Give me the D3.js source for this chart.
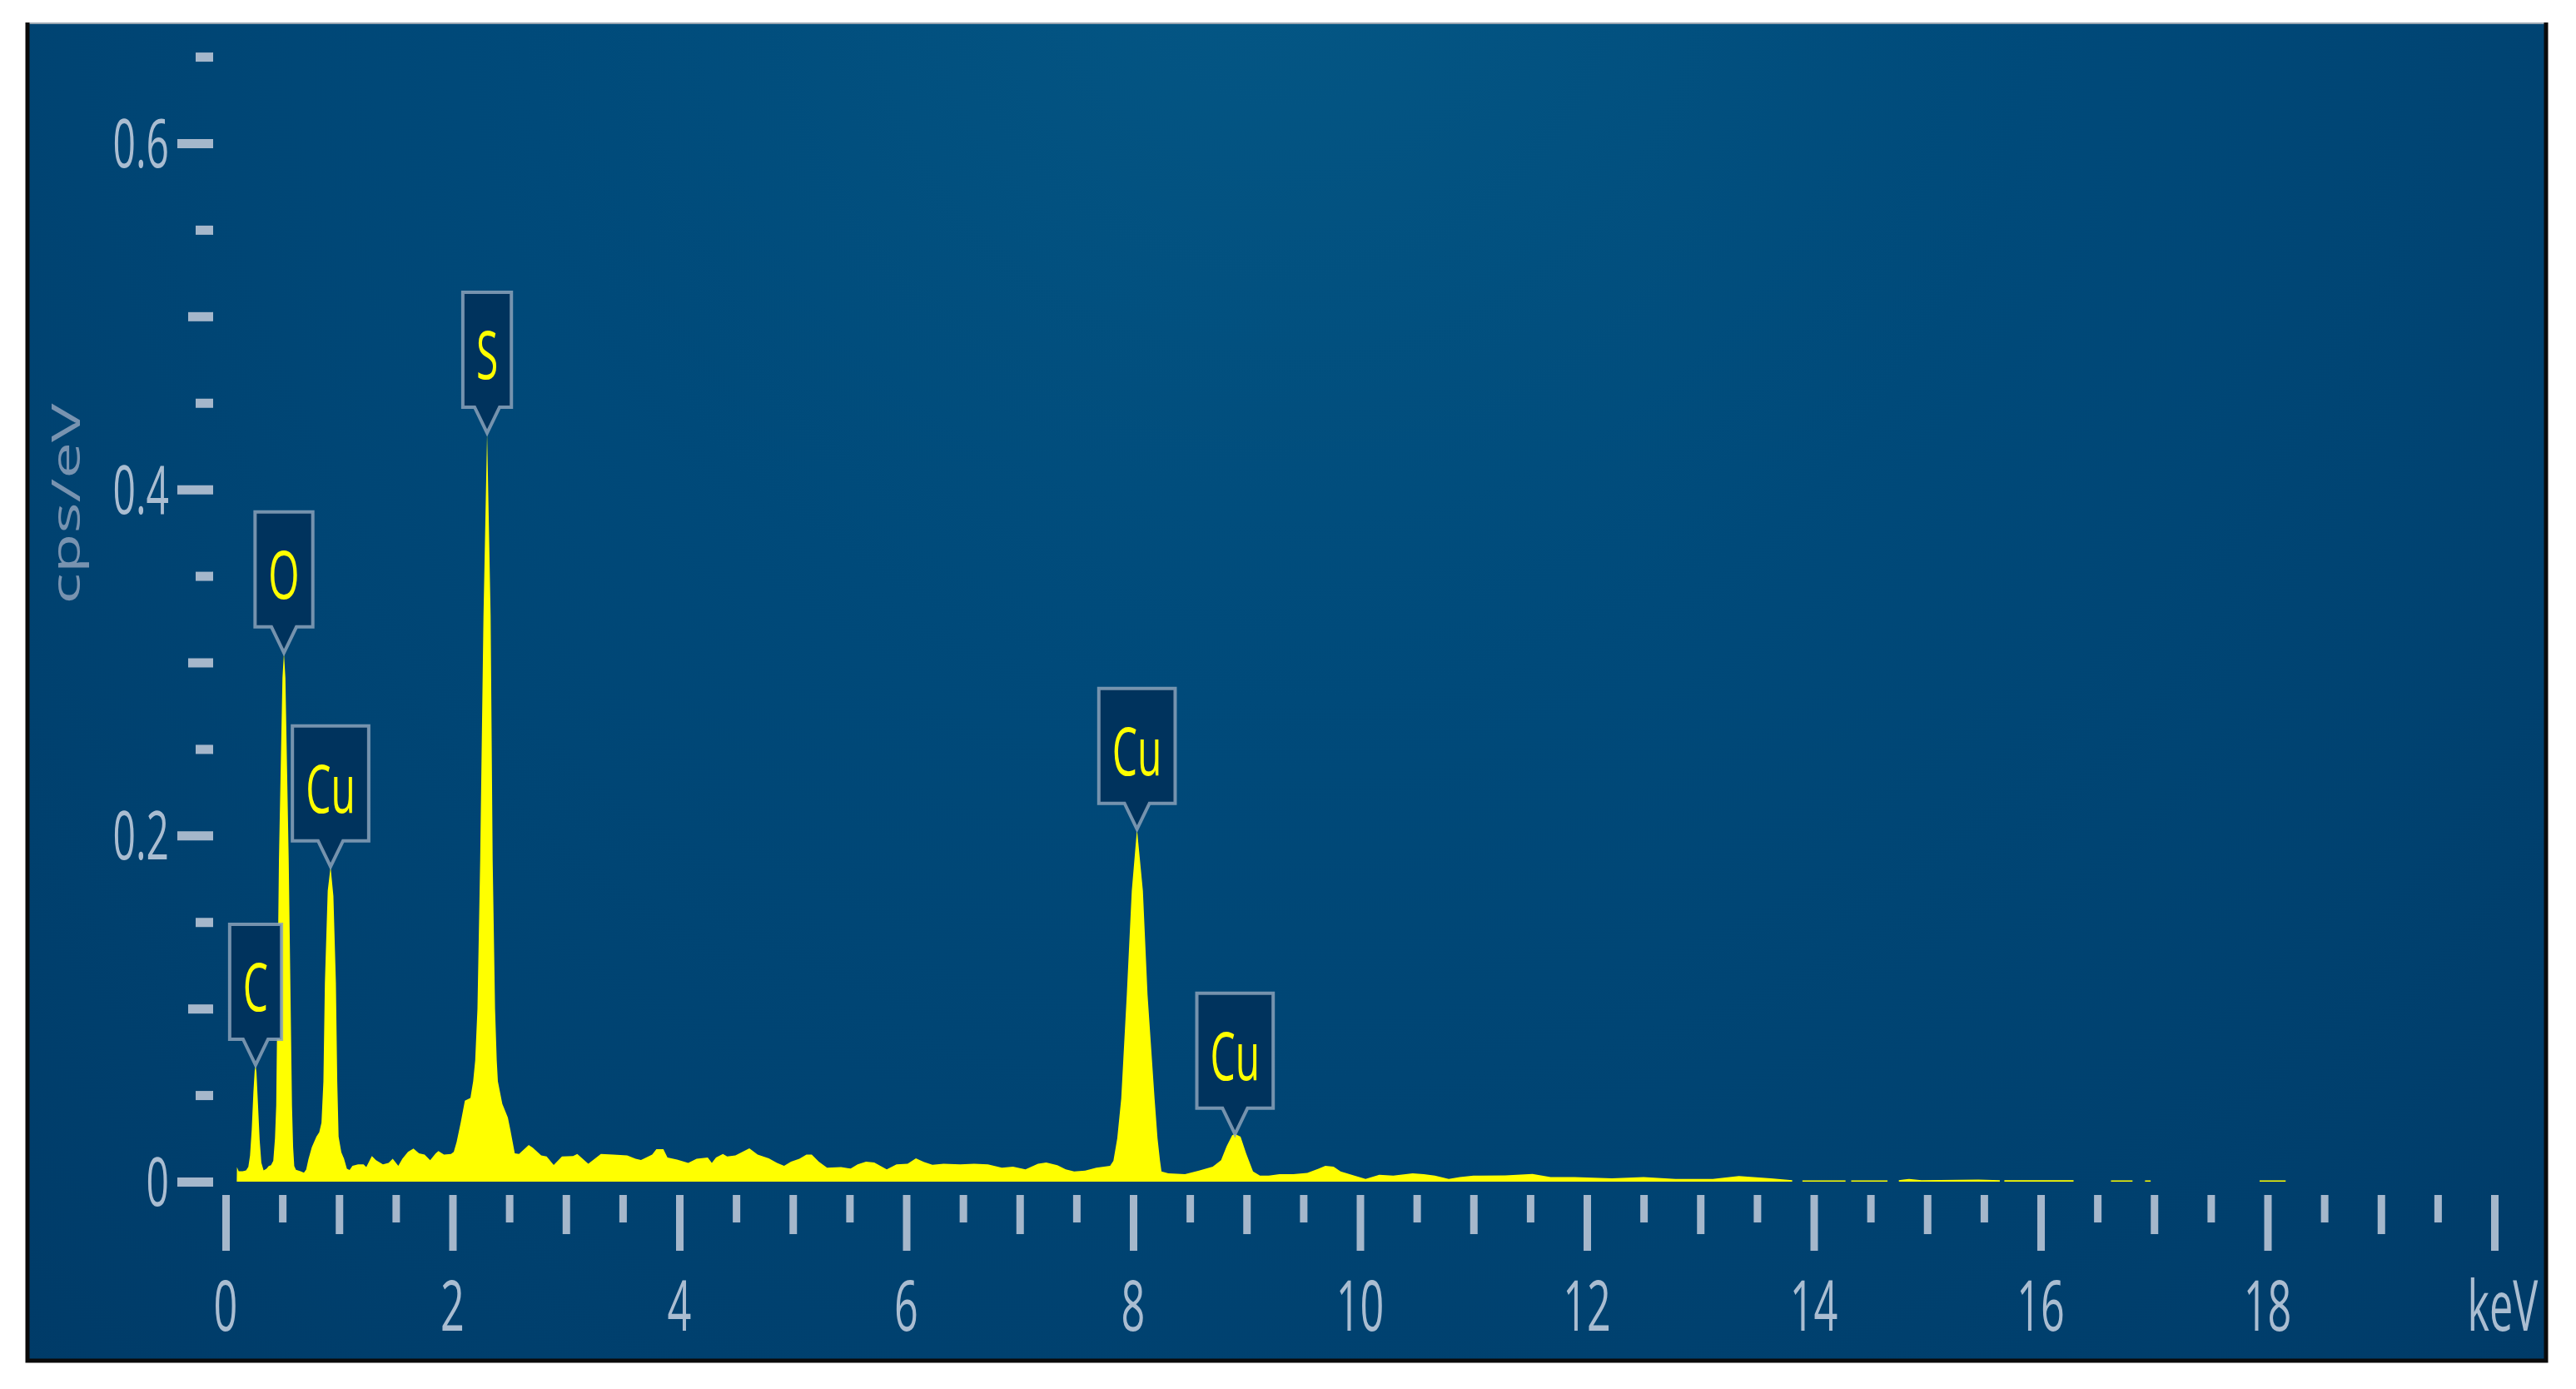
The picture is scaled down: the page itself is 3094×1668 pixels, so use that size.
<!DOCTYPE html>
<html><head><meta charset="utf-8">
<script src="https://cdn.jsdelivr.net/npm/d3@7"></script>
<style>body{margin:0;background:#fff}svg{display:block}</style>
</head><body>
<svg id="chart" width="3094" height="1668"></svg>
<script>
// ---- data (keV, cps/eV) ----
const spectrum = [
[0.098,0],[0.10,0.0084],[0.115,0.006],[0.15,0.006],[0.18,0.0065],[0.20,0.0085],[0.215,0.015],[0.23,0.030],[0.245,0.052],[0.256,0.064],[0.264,0.0674],[0.272,0.063],[0.285,0.045],[0.30,0.024],[0.315,0.011],[0.335,0.0065],[0.36,0.0075],[0.38,0.009],[0.40,0.0095],[0.42,0.012],[0.435,0.025],[0.446,0.044],[0.47,0.186],[0.501,0.291],[0.514,0.3056],[0.527,0.291],[0.556,0.186],[0.585,0.044],[0.595,0.020],[0.605,0.009],[0.62,0.0068],[0.66,0.006],[0.69,0.0052],[0.71,0.007],[0.73,0.013],[0.76,0.020],[0.80,0.026],[0.825,0.0285],[0.845,0.034],[0.862,0.058],[0.875,0.115],[0.90,0.168],[0.925,0.182],[0.95,0.165],[0.972,0.115],[0.984,0.058],[0.996,0.026],[1.02,0.017],[1.044,0.0132],[1.069,0.0075],[1.093,0.0067],
[1.118,0.0092],[1.167,0.0100],[1.216,0.0100],[1.24,0.0084],[1.289,0.0148],[1.326,0.0124],[1.387,0.0100],[1.436,0.0108],[1.473,0.0132],[1.522,0.0092],[1.558,0.0132],[1.607,0.0172],[1.656,0.0191],[1.705,0.0164],[1.754,0.0156],[1.803,0.0124],[1.852,0.0164],[1.876,0.0177],[1.925,0.0156],[1.987,0.0160],[2.011,0.0172],
[2.036,0.0228],[2.072,0.034],[2.109,0.0468],[2.158,0.0484],[2.182,0.058],[2.20,0.07],[2.22,0.10],[2.244,0.186],[2.273,0.327],[2.305,0.4326],[2.336,0.327],[2.354,0.186],[2.375,0.10],[2.39,0.07],[2.40,0.058],[2.439,0.045],[2.488,0.037],[2.51,0.030],[2.549,0.0164],[2.586,0.016],[2.672,0.0212],[2.708,0.0196],[2.782,0.0151],[2.83,0.0145],[2.892,0.0096],[2.965,0.0145],[3.063,0.0148],[3.10,0.016],[3.197,0.0103],[3.308,0.016],[3.418,0.0156],[3.54,0.0151],[3.614,0.0132],[3.662,0.0125],
[3.76,0.0156],[3.797,0.0188],[3.859,0.0188],[3.895,0.0140],[3.98,0.0128],[4.078,0.0108],[4.152,0.0132],[4.25,0.014],[4.286,0.0108],[4.323,0.014],[4.384,0.016],[4.421,0.0145],[4.494,0.0151],[4.555,0.0172],[4.617,0.0193],[4.69,0.0156],[4.788,0.0135],[4.861,0.0108],[4.923,0.0092],[4.984,0.0116],[5.058,0.0132],[5.12,0.0156],[5.167,0.0156],[5.229,0.0116],[5.302,0.0080],[5.425,0.0084],[5.51,0.0076],[5.571,0.0100],[5.645,0.0116],[5.718,0.0111],[5.828,0.0071],[5.914,0.0100],[6.012,0.0103],[6.085,0.0135],[6.158,0.0113],[6.231,0.0097],[6.329,0.0103],[6.476,0.0100],[6.598,0.0103],[6.72,0.0100],[6.843,0.0080],[6.941,0.0087],[7.051,0.0071],[7.161,0.0103],[7.234,0.0111],[7.332,0.0095],
[7.406,0.0071],[7.48,0.0059],[7.577,0.0064],[7.675,0.0080],[7.797,0.0092],[7.826,0.012],[7.86,0.025],[7.895,0.048],[7.944,0.108],[7.988,0.168],[8.034,0.2037],[8.086,0.168],[8.127,0.108],[8.189,0.048],[8.215,0.025],[8.237,0.012],[8.25,0.0059],[8.31,0.0048],[8.457,0.0043],[8.58,0.0064],[8.702,0.0087],[8.775,0.0124],[8.824,0.0204],[8.873,0.0268],[8.898,0.0275],[8.947,0.026],[8.996,0.0164],[9.057,0.0059],[9.118,0.0035],[9.192,0.0035],[9.29,0.0043],[9.412,0.0043],[9.535,0.0051],[9.633,0.0075],[9.694,0.0092],[9.767,0.0087],[9.829,0.0059],[9.951,0.0035],[10.049,0.0016],[10.17,0.004],[10.293,0.0035],[10.464,0.0048],[10.562,0.0043],[10.66,0.0035],[10.782,0.0016],[10.88,0.0027],[11.0,0.0035],
[11.28,0.0036],[11.52,0.0044],[11.68,0.0027],[11.89,0.0027],[12.22,0.0019],[12.5,0.0027],[12.78,0.0016],[13.11,0.0016],[13.34,0.0032],[13.62,0.0019],[13.81,0.0008],[13.85,null],
[13.9,0.0007],[14.28,0.0007],[14.30,null],[14.33,0.0007],[14.65,0.0007],[14.7,null],[14.75,0.0008],[14.84,0.0016],[14.95,0.0008],[15.45,0.0012],[15.64,0.0008],[15.66,null],[15.68,0.0009],[16.29,0.0008],[16.32,null],[16.62,0.0007],[16.81,0.0007],[16.85,null],[16.92,0.0007],[16.97,0.0007],[17.0,null],[17.93,0.0007],[18.16,0.0007]
];
const peakLabels   = ["C", "O", "Cu", "S", "Cu", "Cu"];
const peakEnergies = [0.264, 0.514, 0.925, 2.305, 8.034, 8.898];
const xMajorTicks  = [0, 2, 4, 6, 8, 10, 12, 14, 16, 18, 20];
const xTickLabels  = ["0", "2", "4", "6", "8", "10", "12", "14", "16", "18", "keV"];
const yMajorTicks  = [0, 0.2, 0.4, 0.6];
const yTickLabels  = ["0", "0.2", "0.4", "0.6"];
const yTitle = "cps/eV";

// ---- layout ----
const W = 3094, H = 1668;
const SX = 0.6; // horizontal text compression
const svg = d3.select("#chart");
const defs = svg.append("defs");
const rg = defs.append("radialGradient").attr("id","bg")
  .attr("gradientUnits","userSpaceOnUse").attr("cx",1540).attr("cy",-80).attr("r",2300);
rg.append("stop").attr("offset",0).attr("stop-color","#045785");
rg.append("stop").attr("offset",0.4).attr("stop-color","#004a7a");
rg.append("stop").attr("offset",1).attr("stop-color","#003b68");

const fx0 = 32, fy0 = 27, fx1 = 3060, fy1 = 1636;
svg.append("rect").attr("x",fx0).attr("y",fy0).attr("width",fx1-fx0).attr("height",fy1-fy0).attr("fill","url(#bg)");
svg.append("line").attr("x1",fx0).attr("x2",fx1).attr("y1",fy0+1).attr("y2",fy0+1).attr("stroke","#9aa6b2").attr("stroke-width",2);
svg.append("path").attr("d",`M${fx0+1},${fy0} V${fy1-2} H${fx1-2} V${fy0}`)
  .attr("fill","none").attr("stroke","#0a0a0a").attr("stroke-width",5);

const x = d3.scaleLinear().domain([0,20]).range([271,2996]);
const y = d3.scaleLinear().domain([0,0.6]).range([1419,172]);

const tickColor = "#a5b7cb", labelColor = "#aabdd1";
const font = "'Open Sans', 'Noto Sans', sans-serif";

// ---- spectrum ----
const area = d3.area().defined(d => d[1] !== null)
  .x(d => x(d[0])).y0(y(0)).y1(d => y(d[1])).curve(d3.curveLinear);
svg.append("path").datum(spectrum).attr("d",area).attr("fill","#ffff00");

// ---- y axis ----
const yAxisX = 256;
const yTicksAll = d3.range(0, 0.651, 0.05);
const gy = svg.append("g").attr("transform",`translate(${yAxisX},0)`)
  .call(d3.axisLeft(y).tickValues(yTicksAll).tickSize(43).tickFormat(""));
gy.select(".domain").remove();
gy.selectAll(".tick line").attr("stroke",tickColor).attr("stroke-width",11)
  .attr("x2", d => { const k = Math.round(d*20); return k%4===0 ? -43 : (k%2===0 ? -30 : -21); });
gy.selectAll(".tick text").remove();
yMajorTicks.forEach((v,i) => {
  svg.append("text").attr("transform",`translate(${yAxisX-53},${y(v)+29}) scale(${SX},1)`)
    .attr("text-anchor","end").attr("font-family",font).attr("font-size",80)
    .attr("fill",labelColor).text(yTickLabels[i]);
});
svg.append("text").attr("transform",`translate(96,605) scale(${SX},1) rotate(-90)`)
  .attr("text-anchor","middle").attr("font-family",font).attr("font-size",78)
  .attr("fill","#7893b0").text(yTitle);

// ---- x axis ----
const xAxisY = 1435;
const xTicksAll = d3.range(0, 20.001, 0.5);
const gx = svg.append("g").attr("transform",`translate(0,${xAxisY})`)
  .call(d3.axisBottom(x).tickValues(xTicksAll).tickSize(67).tickFormat(""));
gx.select(".domain").remove();
gx.selectAll(".tick line").attr("stroke",tickColor).attr("stroke-width",9)
  .attr("y2", d => { const k = Math.round(d*2); return k%4===0 ? 67 : (k%2===0 ? 47 : 33); });
gx.selectAll(".tick text").remove();
xMajorTicks.forEach((v,i) => {
  const dx = xTickLabels[i] === "keV" ? 10 : 0;
  svg.append("text").attr("transform",`translate(${x(v)+dx},1598) scale(${SX},1)`)
    .attr("text-anchor","middle").attr("font-family",font).attr("font-size",84)
    .attr("fill",labelColor).text(xTickLabels[i]);
});

// ---- peak callouts ----
const bh = 138, ph = 31, pw = 15, pad = 16;
const gl = svg.append("g");
peakLabels.forEach((lab,i) => {
  const e = peakEnergies[i];
  const near = spectrum.filter(d => d[1] !== null && Math.abs(d[0]-e) <= 0.03);
  const vmax = d3.max(near, d => d[1]);
  const cx = x(e), tip = y(vmax);
  const g = gl.append("g");
  const path = g.append("path");
  const t = g.append("text").attr("text-anchor","middle").attr("font-family",font)
    .attr("font-size",80).attr("fill","#ffff00").text(lab);
  const tw = t.node().getComputedTextLength() * SX;
  const bw = tw + 2*pad;
  const top = tip - ph - bh;
  path.attr("d",`M${cx-bw/2},${top} H${cx+bw/2} V${top+bh} H${cx+pw} L${cx},${tip} L${cx-pw},${top+bh} H${cx-bw/2} Z`)
    .attr("fill","#00335d").attr("stroke","#8aa2ba").attr("stroke-opacity",0.85)
    .attr("stroke-width",4).attr("stroke-linejoin","miter");
  t.attr("transform",`translate(${cx},${top+104}) scale(${SX},1)`);
});
</script>
</body></html>
